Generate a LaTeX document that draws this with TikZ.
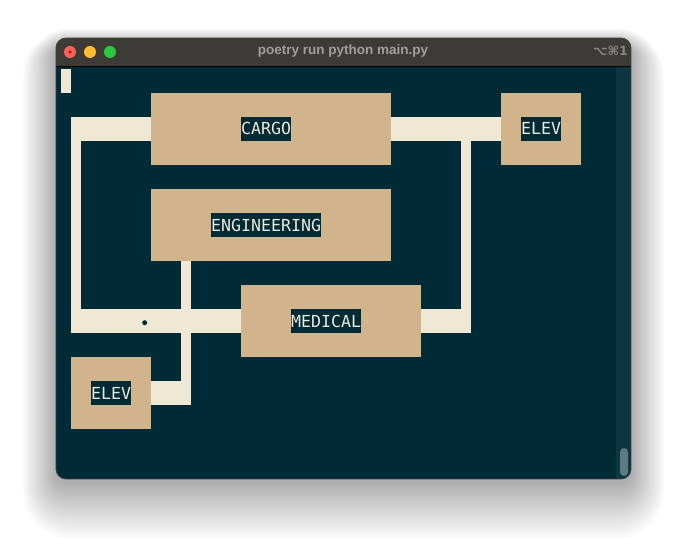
\documentclass[tikz,border=0pt]{standalone}
\usepackage{fontspec}
\newfontfamily\monof{DejaVu Sans Mono}
\newfontfamily\titlef{Liberation Sans}
\newfontfamily\symf{DejaVu Sans}
\definecolor{termbg}{HTML}{002B36}
\definecolor{cream}{HTML}{EEE8D5}
\definecolor{tanbox}{HTML}{D2B48C}
\definecolor{titlebar}{HTML}{3C3B36}
\definecolor{track}{HTML}{0E3640}
\definecolor{thumb}{HTML}{5B7B81}
\definecolor{titletext}{HTML}{A19F99}
\definecolor{tlred}{HTML}{FF5F57}
\definecolor{tlredc}{HTML}{8E1010}
\definecolor{tlyellow}{HTML}{FEBC2E}
\definecolor{tlgreen}{HTML}{28C840}
\tikzset{
  room/.style={fill=tanbox, draw=none, inner sep=0pt},
  roomlabel/.style={fill=termbg, text=cream, inner sep=0pt, minimum height=24pt,
    text height=12pt, text depth=0pt, anchor=west, font=\monof\fontsize{16.6}{20}\selectfont},
  pipe/.style={fill=cream, draw=none},
}
\begin{document}
\begin{tikzpicture}[x=1pt,y=-1pt]
\useasboundingbox (0,0) rectangle (687,553);
\fill[white] (0,0) rectangle (687,553);
% shadow
\foreach \i in {1,...,40}{
  \pgfmathsetmacro{\rc}{10+\i}
  \fill[black,opacity=0.009,rounded corners=\rc pt] (56-\i*0.85,46-\i*0.45) rectangle (631+\i*0.85,482+\i*1.45);
}
% window
\begin{scope}
\clip[rounded corners=10pt] (56,38) rectangle (631,479);
\fill[titlebar] (56,38) rectangle (631,66);
\fill[termbg] (56,66) rectangle (631,479);
\fill[track] (616,67) rectangle (631,479);
\draw[black, line width=1pt] (56,66.5) -- (631,66.5);
\end{scope}
\draw[rounded corners=10pt, draw=black!75, line width=0.8pt] (56,38) rectangle (631,479);
% traffic lights
\fill[tlred] (70,52) circle (6);
\fill[tlredc] (70,52) circle (1.7);
\fill[tlyellow] (90,52) circle (6);
\fill[tlgreen] (110,52) circle (6);
\node[text=titletext, font=\titlef\bfseries\fontsize{13.5}{16}\selectfont, inner sep=0pt] (title) at (343,51) {poetry run python main.py};
\node[text=titletext!85!black, font=\symf\bfseries\fontsize{12.5}{15}\selectfont, inner sep=0pt, anchor=east] (keys) at (628,51) {⌥⌘1};
% scroll thumb
\fill[thumb, rounded corners=4pt] (620,448) rectangle (628,476);
% cursor
\fill[cream] (61,69) rectangle (71,93);
% pipes
\fill[pipe] (71,117) rectangle (501,141);
\fill[pipe] (71,117) rectangle (81,333);
\fill[pipe] (71,309) rectangle (471,333);
\fill[pipe] (461,117) rectangle (471,333);
\fill[pipe] (181,255) rectangle (191,405);
\fill[pipe] (151,381) rectangle (191,405);
\fill[termbg] (144.7,322.7) circle (2.5);
% rooms
\node[room, minimum width=240pt, minimum height=72pt] (cargo) at (271,129) {};
\node[roomlabel] (cargol) at (241,129) {CARGO};
\node[room, minimum width=80pt, minimum height=72pt] (elevr) at (541,129) {};
\node[roomlabel] (elevrl) at (521,129) {ELEV};
\node[room, minimum width=240pt, minimum height=72pt] (eng) at (271,225) {};
\node[roomlabel] (engl) at (211,225) {ENGINEERING};
\node[room, minimum width=180pt, minimum height=72pt] (med) at (331,321) {};
\node[roomlabel] (medl) at (291,321) {MEDICAL};
\node[room, minimum width=80pt, minimum height=72pt] (elevl) at (111,393) {};
\node[roomlabel] (elevll) at (91,393) {ELEV};
\end{tikzpicture}
\end{document}
